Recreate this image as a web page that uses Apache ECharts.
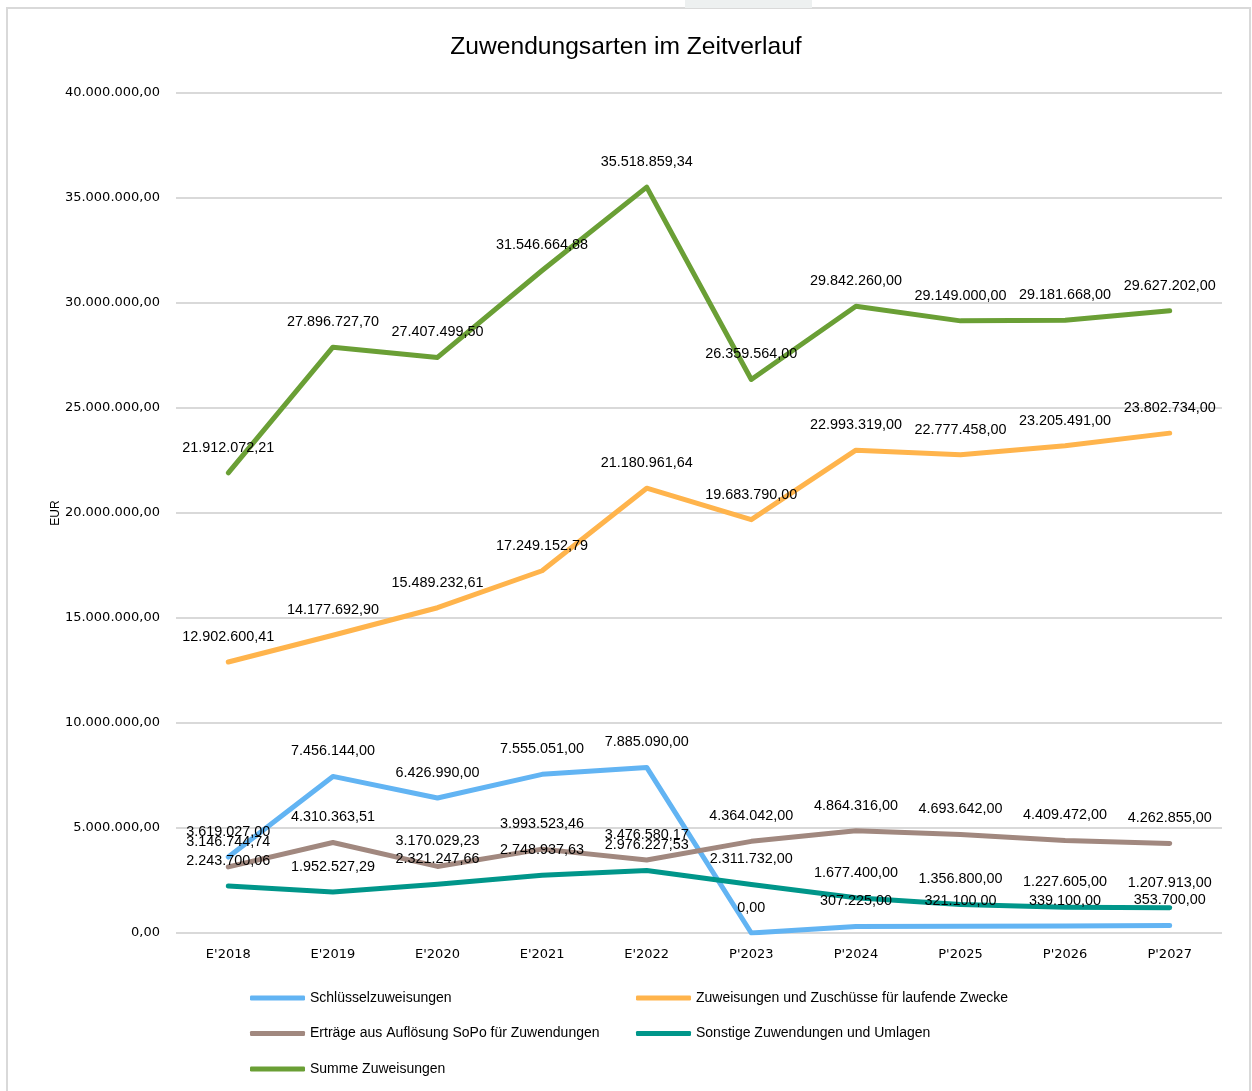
<!DOCTYPE html>
<html>
<head>
<meta charset="utf-8">
<script src="https://cdn.jsdelivr.net/npm/echarts@6/dist/echarts.min.js"></script>
<style>
  html, body { margin: 0; padding: 0; background: #fff; }
  #chart { width: 1252px; height: 1091px; }
</style>
</head>
<body>
<div id="chart"></div>
<script>
// Kategorien (Jahre)
const years = ["E'2018", "E'2019", "E'2020", "E'2021", "E'2022", "P'2023", "P'2024", "P'2025", "P'2026", "P'2027"]

// Werte je Zuwendungsart
const schluessel = [3619027.00, 7456144.00, 6426990.00, 7555051.00, 7885090.00, 0.00, 307225.00, 321100.00, 339100.00, 353700.00]
const laufend = [12902600.41, 14177692.90, 15489232.61, 17249152.79, 21180961.64, 19683790.00, 22993319.00, 22777458.00, 23205491.00, 23802734.00]
const sopo = [3146744.74, 4310363.51, 3170029.23, 3993523.46, 3476580.17, 4364042.00, 4864316.00, 4693642.00, 4409472.00, 4262855.00]
const sonstige = [2243700.06, 1952527.29, 2321247.66, 2748937.63, 2976227.53, 2311732.00, 1677400.00, 1356800.00, 1227605.00, 1207913.00]
const summe = [21912072.21, 27896727.70, 27407499.50, 31546664.88, 35518859.34, 26359564.00, 29842260.00, 29149000.00, 29181668.00, 29627202.00]

const yTicks = { min: 0, max: 40000000, interval: 5000000 }

// deutsches Zahlenformat
const fmt = (v) => Number(v).toLocaleString('de-DE', { minimumFractionDigits: 2, maximumFractionDigits: 2 })

const labelFont = "'Liberation Sans', Arial, sans-serif"
const axisFont = "'DejaVu Sans', Verdana, sans-serif"

const makeSeries = (name, data, color) => ({
  name,
  type: 'line',
  data,
  // Symbol winzig, damit die Datenbeschriftungen erscheinen
  symbol: 'circle',
  symbolSize: 0.1,
  showSymbol: true,
  smooth: false,
  lineStyle: { width: 5, color, cap: 'round', join: 'round' },
  itemStyle: { color },
  label: {
    show: true,
    position: 'top',
    distance: 18,
    formatter: (p) => fmt(p.value),
    color: '#000',
    fontFamily: labelFont,
    fontSize: 14.4
  },
  labelLayout: { hideOverlap: false },
  emphasis: { disabled: true },
  z: 3
})

const chart = echarts.init(document.getElementById('chart'), null, { renderer: 'canvas' })

const legendText = { color: '#000', fontFamily: labelFont, fontSize: 14 }

const option = {
  backgroundColor: '#fff',
  animation: false,
  title: {
    text: 'Zuwendungsarten im Zeitverlauf',
    left: 'center',
    top: 30,
    textStyle: { fontFamily: labelFont, fontWeight: 'normal', fontSize: 24.6, color: '#000' }
  },
  graphic: [
    { type: 'rect', shape: { x: 7, y: 8, width: 1243, height: 1090 }, style: { fill: 'none', stroke: '#d9d9d9', lineWidth: 2 }, silent: true },
    { type: 'rect', shape: { x: 685, y: 0, width: 127, height: 8 }, style: { fill: '#edf0f0' }, silent: true }
  ],
  grid: { left: 176, top: 93, width: 1046, height: 840 },
  xAxis: {
    type: 'category',
    data: years,
    boundaryGap: true,
    axisLine: { show: false },
    axisTick: { show: false },
    axisLabel: { margin: 15, color: '#000', fontFamily: axisFont, fontSize: 13 }
  },
  yAxis: {
    type: 'value',
    min: yTicks.min,
    max: yTicks.max,
    interval: yTicks.interval,
    name: 'EUR',
    nameLocation: 'middle',
    nameGap: 114,
    nameMoveOverlap: false,
    nameTextStyle: { color: '#000', fontFamily: labelFont, fontSize: 12 },
    axisLine: { show: false },
    axisTick: { show: false },
    axisLabel: { margin: 16, color: '#000', fontFamily: axisFont, fontSize: 13, formatter: fmt },
    splitLine: { lineStyle: { color: '#d9d9d9', width: 2 } }
  },
  legend: [
    {
      orient: 'vertical',
      left: 245,
      top: 986,
      itemGap: 21.5,
      itemWidth: 55,
      itemHeight: 5,
      icon: 'roundRect',
      textStyle: legendText,
      data: ['Schlüsselzuweisungen', 'Erträge aus Auflösung SoPo für Zuwendungen', 'Summe Zuweisungen']
    },
    {
      orient: 'vertical',
      left: 631,
      top: 986,
      itemGap: 21.5,
      itemWidth: 55,
      itemHeight: 5,
      icon: 'roundRect',
      textStyle: legendText,
      data: ['Zuweisungen und Zuschüsse für laufende Zwecke', 'Sonstige Zuwendungen und Umlagen']
    }
  ],
  series: [
    makeSeries('Schlüsselzuweisungen', schluessel, '#62b4f3'),
    makeSeries('Zuweisungen und Zuschüsse für laufende Zwecke', laufend, '#ffb44c'),
    makeSeries('Erträge aus Auflösung SoPo für Zuwendungen', sopo, '#a1887f'),
    makeSeries('Sonstige Zuwendungen und Umlagen', sonstige, '#00968a'),
    makeSeries('Summe Zuweisungen', summe, '#6a9f35')
  ]
}

chart.setOption(option)
</script>
</body>
</html>
